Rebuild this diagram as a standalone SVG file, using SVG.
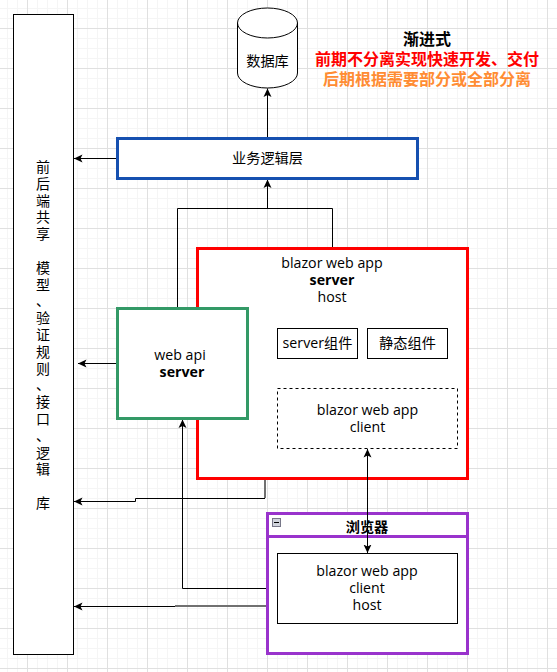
<svg xmlns="http://www.w3.org/2000/svg" width="557" height="672" viewBox="0 0 557 672">
<style>
.t{font-family:"Open Sans","Noto Sans CJK SC",sans-serif;font-size:14.2px;text-anchor:middle;fill:#000}
.b{font-weight:bold}
.v{font-family:"Noto Sans CJK SC",sans-serif;font-size:14px;text-anchor:middle;fill:#000}
.h{font-family:"Noto Sans CJK SC",sans-serif;font-size:16px;font-weight:bold;text-anchor:middle}
.c{fill:none;stroke:#000;stroke-width:1}
.g{fill:none;stroke:#707070;stroke-width:2}
.n{fill:#fff;stroke:#000;stroke-width:1}
</style>
<defs>
<pattern id="g" x="-13" y="-12" width="40" height="40" patternUnits="userSpaceOnUse">
<path d="M10.500 0V40M20.500 0V40M30.500 0V40M0 10.500H40M0 20.500H40M0 30.500H40" stroke="#f5f5f5" stroke-width="1" fill="none"/>
<path d="M.5 0V40M0 .5H40" stroke="#e0e0e0" stroke-width="1" fill="none"/>
</pattern>
<marker id="a" markerWidth="9" markerHeight="9" refX="8.500" refY="4.500" orient="auto-start-reverse" markerUnits="userSpaceOnUse"><path d="M0 .5L8.500 4.500L0 8.500L2 4.500Z" fill="#000"/></marker>
</defs>
<rect width="557" height="672" fill="#fff"/>
<rect width="557" height="672" fill="url(#g)"/>
<g id="connectors">
<path class="c" d="M267.500 138V88.500" marker-end="url(#a)"/>
<path class="c" d="M117 158.500H74" marker-end="url(#a)"/>
<path class="c" d="M177.500 308V208.500H332.500V248"/>
<path class="c" d="M267.500 208.500V179.500" marker-end="url(#a)"/>
<path class="c" d="M117 363.500H78" marker-end="url(#a)"/>
<path class="g" d="M265 479V498"/>
<path class="c" d="M265 498.500H135.500V501.500H74" marker-end="url(#a)"/>
<path class="c" d="M277 588.500H182.500V419.500" marker-end="url(#a)"/>
<path class="g" d="M277 606H175"/>
<path class="c" d="M175 606.500H74" marker-end="url(#a)"/>
</g>
<g id="shared"><rect class="n" x="13.500" y="14.500" width="60" height="640"/>
<text class="v" y="172"><tspan x="43">前</tspan><tspan x="43" dy="16.800">后</tspan><tspan x="43" dy="16.800">端</tspan><tspan x="43" dy="16.800">共</tspan><tspan x="43" dy="16.800">享</tspan><tspan x="43" dy="33.600">模</tspan><tspan x="43" dy="16.800">型</tspan><tspan x="43" dy="16.800">、</tspan><tspan x="43" dy="16.800">验</tspan><tspan x="43" dy="16.800">证</tspan><tspan x="43" dy="16.800">规</tspan><tspan x="43" dy="16.800">则</tspan><tspan x="43" dy="16.800">、</tspan><tspan x="43" dy="16.800">接</tspan><tspan x="43" dy="16.800">口</tspan><tspan x="43" dy="16.800">、</tspan><tspan x="43" dy="16.800">逻</tspan><tspan x="43" dy="16.800">辑</tspan><tspan x="43" dy="33.600">库</tspan></text></g>
<g id="database"><path class="n" d="M237.500 23A30 15 0 0 1 297.500 23V73A30 15 0 0 1 237.500 73Z"/><path class="c" d="M237.500 23A30 15 0 0 0 297.500 23"/><text class="t" x="267.500" y="66">数据库</text></g>
<g id="title">
<text class="h" x="427" y="45" fill="#000">渐进式</text>
<text class="h" x="427" y="65" fill="#f00">前期不分离实现快速开发、交付</text>
<text class="h" x="427" y="85" fill="#ff8c33">后期根据需要部分或全部分离</text></g>
<g id="logic"><rect x="117.500" y="138.500" width="300" height="40" fill="#fff" stroke="#1650b0" stroke-width="3"/><text class="t" x="267.500" y="163">业务逻辑层</text></g>
<g id="blazor-server"><rect x="197.500" y="248.500" width="270" height="230" fill="#fff" stroke="#f00" stroke-width="3"/>
<text class="t" x="332" y="268">blazor web app</text><text class="t b" x="332" y="285">server</text><text class="t" x="332" y="302">host</text></g>
<g id="server-comp"><rect class="n" x="277.500" y="328.500" width="80" height="30"/><text class="t" x="317.500" y="348">server组件</text></g>
<g id="static-comp"><rect class="n" x="367.500" y="328.500" width="80" height="30"/><text class="t" x="407.500" y="348">静态组件</text></g>
<g id="blazor-client"><rect class="n" x="277.500" y="388.500" width="180" height="60" stroke-dasharray="3 3"/><text class="t" x="367.500" y="415">blazor web app</text><text class="t" x="367.500" y="432">client</text></g>
<g id="webapi"><rect x="117.500" y="308.500" width="130" height="110" fill="#fff" stroke="#339966" stroke-width="3"/><text class="t" x="180" y="360">web api</text><text class="t b" x="182" y="377">server</text></g>
<g id="browser"><rect x="267.500" y="513.500" width="200" height="140" fill="#fff" stroke="#9933cc" stroke-width="3"/><path d="M267.500 536.500H467.500" stroke="#9933cc" stroke-width="3"/>
<rect x="272.500" y="518.500" width="8" height="8" fill="#d0d4dc" stroke="#778"/><path d="M274 522.500H279" stroke="#000"/>
<text class="t b" x="367" y="532">浏览器</text></g>
<g id="client-host"><rect class="n" x="277.500" y="553.500" width="180" height="70"/><text class="t" x="367" y="576">blazor web app</text><text class="t" x="367" y="593">client</text><text class="t" x="367" y="610">host</text></g>
<g id="connector-sync"><path class="c" d="M367.500 449V553" marker-start="url(#a)" marker-end="url(#a)"/></g>
</svg>
